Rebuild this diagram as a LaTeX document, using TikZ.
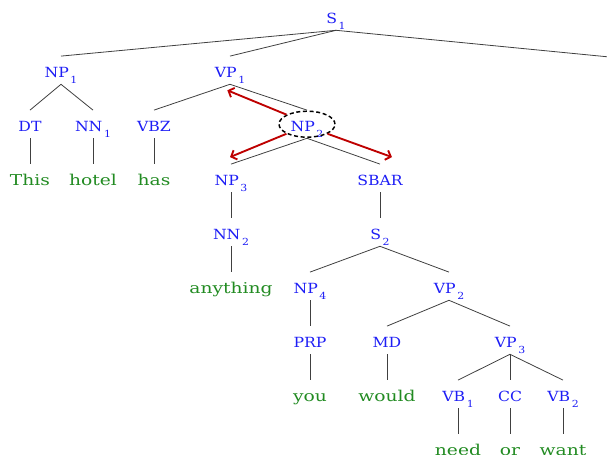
\documentclass[tikz,border=0pt]{standalone}
\usepackage{fontspec}
\setmainfont{DejaVu Serif}
\newfontfamily\tagfont{DejaVu Serif}[FakeStretch=1.12]
\newfontfamily\wordfont{DejaVu Serif}[FakeStretch=1.25]
\usepackage{tikz}
\usetikzlibrary{shapes,arrows,arrows.meta}
\definecolor{tagblue}{RGB}{30,30,245}
\definecolor{wordgreen}{RGB}{34,139,34}
\definecolor{linkred}{RGB}{190,0,0}
\newcommand{\idx}[1]{\kern1.2pt\raisebox{-5pt}{\fontsize{7.3}{8}\selectfont #1}}
\tikzstyle{tag} = [text=tagblue,font=\tagfont\fontsize{10.5}{12}\selectfont,inner xsep=1pt,inner ysep=2pt,text height=13.5pt,text depth=3.25pt]
\tikzstyle{word} = [tag,text=wordgreen,font=\wordfont\fontsize{11.2}{13}\selectfont]
\tikzstyle{branch} = [draw=black!75,line width=0.6pt]
\tikzstyle{redlink} = [draw=linkred,line width=1.4pt,-{Straight Barb[length=3.5pt,width=7.5pt]}]
\tikzstyle{ring} = [ellipse,draw=black,line width=1.1pt,dash pattern=on 3pt off 2pt,minimum width=42pt,minimum height=19.5pt,inner sep=0pt]

\begin{document}
\begin{tikzpicture}[node distance=40.5pt]
\useasboundingbox (0,0) rectangle (455.25pt,-340.5pt);
\node (s1) [tag] at (252pt,-12.15pt) {S\idx{1}};
\node (np1) [tag,below of=s1,xshift=-206.25pt] {NP\idx{1}};
\node (vp1) [tag,below of=s1,xshift=-79.5pt] {VP\idx{1}};
\coordinate (rest) at (470pt,-44pt);
\node (dt) [tag,below of=np1,xshift=-23.25pt] {DT};
\node (nn1) [tag,below of=np1,xshift=24pt] {NN\idx{1}};
\node (vbz) [tag,below of=vp1,xshift=-57pt] {VBZ};
\node (np2) [tag,below of=vp1,xshift=57.75pt] {NP\idx{2}};
\node (ring) [ring] at (np2) {};
\node (this) [word,below of=dt] {This};
\node (hotel) [word,below of=nn1] {hotel};
\node (has) [word,below of=vbz] {has};
\node (np3) [tag,below of=np2,xshift=-57pt] {NP\idx{3}};
\node (sbar) [tag,below of=np2,xshift=54.75pt] {SBAR};
\node (nn2) [tag,below of=np3] {NN\idx{2}};
\node (s2) [tag,below of=sbar] {S\idx{2}};
\node (anything) [word,below of=nn2] {anything};
\node (np4) [tag,below of=s2,xshift=-52.5pt] {NP\idx{4}};
\node (vp2) [tag,below of=s2,xshift=51.75pt] {VP\idx{2}};
\node (prp) [tag,below of=np4] {PRP};
\node (md) [tag,below of=vp2,xshift=-46.5pt] {MD};
\node (vp3) [tag,below of=vp2,xshift=45.75pt] {VP\idx{3}};
\node (you) [word,below of=prp] {you};
\node (would) [word,below of=md] {would};
\node (vb1) [tag,below of=vp3,xshift=-39pt] {VB\idx{1}};
\node (cc) [tag,below of=vp3] {CC};
\node (vb2) [tag,below of=vp3,xshift=39.75pt] {VB\idx{2}};
\node (need) [word,below of=vb1] {need};
\node (or) [word,below of=cc] {or};
\node (want) [word,below of=vb2] {want};

\draw [branch] (s1.south) -- (np1.north);
\draw [branch] (s1.south) -- (vp1.north);
\draw [branch] (s1.south) -- (rest);
\draw [branch] (np1.south) -- (dt.north);
\draw [branch] (np1.south) -- (nn1.north);
\draw [branch] (vp1.south) -- (vbz.north);
\draw [branch] (vp1.south) -- (np2.north);
\draw [branch] (dt.south) -- (this.north);
\draw [branch] (nn1.south) -- (hotel.north);
\draw [branch] (vbz.south) -- (has.north);
\draw [branch] (np2.south) -- (np3.north);
\draw [branch] (np2.south) -- (sbar.north);
\draw [branch] (np3.south) -- (nn2.north);
\draw [branch] (nn2.south) -- (anything.north);
\draw [branch] (sbar.south) -- (s2.north);
\draw [branch] (s2.south) -- (np4.north);
\draw [branch] (s2.south) -- (vp2.north);
\draw [branch] (np4.south) -- (prp.north);
\draw [branch] (prp.south) -- (you.north);
\draw [branch] (vp2.south) -- (md.north);
\draw [branch] (vp2.south) -- (vp3.north);
\draw [branch] (md.south) -- (would.north);
\draw [branch] (vp3.south) -- (vb1.north);
\draw [branch] (vp3.south) -- (cc.north);
\draw [branch] (vp3.south) -- (vb2.north);
\draw [branch] (vb1.south) -- (need.north);
\draw [branch] (cc.south) -- (or.north);
\draw [branch] (vb2.south) -- (want.north);

% arrows out of the circled NP
\draw [redlink] (ring.155) -- ([xshift=-2pt,yshift=-4.5pt]vp1.south);
\draw [redlink] (ring.205) -- ([xshift=-0.75pt,yshift=5.25pt]np3.north);
\draw [redlink] (ring.335) -- ([xshift=9pt,yshift=5.25pt]sbar.north);

\end{tikzpicture}
\end{document}
